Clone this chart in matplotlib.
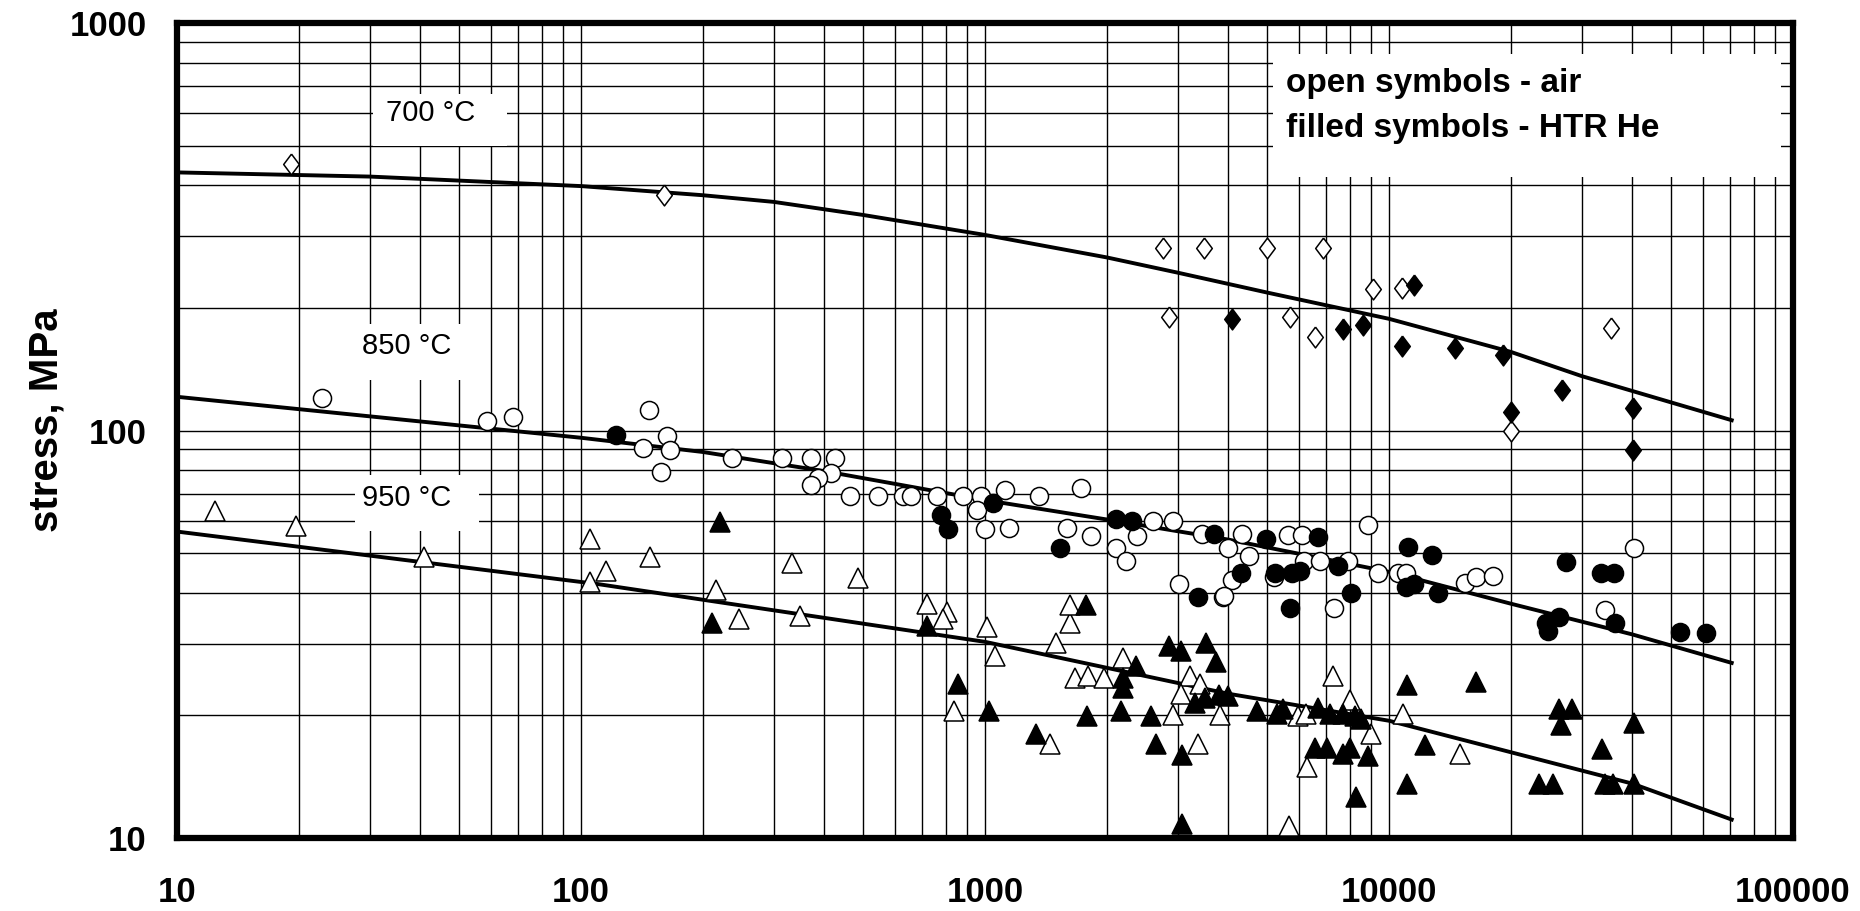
import matplotlib
matplotlib.use('Agg')
import matplotlib.pyplot as plt
from matplotlib.patches import Rectangle
from matplotlib.ticker import FixedLocator, LogLocator, NullFormatter

plt.rcParams['font.family'] = ['Liberation Sans', 'DejaVu Sans']

# ---- data (time h, stress MPa) ----
# 700 C, diamonds
d700_air_x = [19.1, 160, 2750, 3480, 4990, 6870, 2850, 5700, 6560, 9150, 10770, 20000, 35400]
d700_air_y = [450, 378, 280, 281, 280, 281, 190, 190, 170, 223, 224, 99.6, 179]
d700_he_x = [4080, 7690, 8630, 11560, 10770, 14590, 19100, 26800, 20000, 40100, 40100]
d700_he_y = [188, 177, 182, 228, 161, 159, 153, 126, 111, 113.6, 89.8]

# 850 C, circles
c850_air_x = [22.9, 58.5, 67.8, 147, 163, 142, 166, 158, 237, 314, 371, 425, 415, 387, 371,
              464, 543, 625, 655, 762, 883, 975, 1120, 1358, 1726, 956, 997, 1148, 1592, 1829,
              2600, 2920, 2376, 2115, 2233, 3436, 3020, 3883, 4093, 4330, 4000, 4490, 3910,
              5610, 6080, 6150, 6760, 7910, 5200, 7300, 8880, 9370, 10500, 11000, 15460,
              16400, 18100, 34200, 40400]
c850_air_y = [120, 105.5, 108, 112, 97, 90.5, 89.5, 78.9, 85.4, 85.4, 85.4, 85.4, 78.5, 76.3, 73.5,
              69.2, 69.2, 69.2, 69.2, 69.2, 69.2, 69.2, 71.5, 69.2, 72.2, 64, 57.2, 57.7, 57.7, 55.1,
              59.9, 59.9, 55.1, 51.4, 47.9, 55.6, 42.1, 39.1, 43, 55.8, 51.6, 49.3, 39.3,
              55.4, 55.4, 47.9, 47.9, 47.9, 43.6, 36.6, 58.5, 44.7, 44.7, 44.7, 42.2,
              43.6, 44, 36.2, 51.6]
c850_he_x = [122, 780, 811, 1045, 1536, 2104, 2310, 3690, 3358, 4290, 4955, 6680, 5230, 5740,
             6010, 7470, 8050, 5680, 11160, 12770, 11000, 11500, 13200, 27400, 33400, 36000,
             36200, 24400, 24700, 26400, 52600, 60900]
c850_he_y = [97.5, 62.2, 57.2, 66.4, 51.6, 60.5, 59.9, 55.6, 39, 44.7, 54.1, 54.7, 44.7, 44.7,
             45.1, 46.6, 39.9, 36.6, 51.7, 49.6, 41.3, 42, 39.9, 47.5, 44.7, 44.7,
             33.7, 33.8, 32.2, 34.8, 32.1, 31.9]

# 950 C, triangles
t950_air_x = [12.4, 19.65, 40.8, 105, 115, 105, 148, 333, 486, 216, 246, 348, 719, 804, 789,
              1009, 1057, 1500, 1622, 1622, 1667, 1795, 1971, 2196, 3210, 3400, 3050, 2920,
              3820, 838, 1449, 3370, 7250, 8010, 5940, 6220, 9040, 6250, 10850, 15000, 5650]
t950_air_y = [63.6, 58.2, 49, 54.1, 45.3, 42.5, 49, 47.2, 43.5, 40.7, 34.4, 35.1, 37.6, 35.9, 34.5,
              33, 27.9, 30.1, 33.7, 37.4, 24.7, 25, 24.7, 27.7, 25, 23.9, 22.6, 20,
              20, 20.5, 17, 17, 25, 21.8, 19.9, 20.2, 18, 14.9, 20.2, 16.1, 10.7]
t950_he_x = [221, 211, 719, 1780, 2367, 2200, 2200, 2850, 3060, 3520, 3730, 3300, 3500, 3800,
             4000, 857, 1020, 1786, 2168, 2570, 1336, 2649, 3070, 3070, 11100, 16400, 26400,
             28400, 26700, 40400, 33600, 23500, 25500, 34200, 35800, 40400, 11100, 12250,
             8280, 4710, 5280, 5470, 6680, 7160, 7680, 8240, 8530, 6560, 7030, 7680, 8010, 8880]
t950_he_y = [59.7, 33.7, 33.1, 37.4, 26.4, 24.7, 23.4, 29.6, 28.8, 30.1, 27.1, 21.5, 22, 22.5,
             22.3, 23.9, 20.5, 19.9, 20.5, 19.9, 18, 17, 16, 10.8, 23.8, 24.2, 20.7,
             20.7, 18.9, 19.2, 16.5, 13.6, 13.6, 13.6, 13.6, 13.6, 13.6, 16.9,
             12.6, 20.5, 20.2, 20.7, 20.9, 20.2, 20.2, 19.9, 19.6, 16.6, 16.6, 16.1, 16.6, 15.9]

# fitted curves as drawn
fit700_x = [10, 30, 100, 200, 300, 500, 1000, 2000, 3000, 5000, 10000, 20000, 30000, 70500]
fit700_y = [430, 420, 398, 378, 364, 338, 302, 266, 244, 218, 188, 156, 136, 106]
fit850_x = [10, 100, 200, 400, 1000, 2000, 4000, 10000, 20000, 40000, 70500]
fit850_y = [121, 96, 88.6, 79.5, 67.5, 60.5, 54, 45, 37.6, 31.6, 26.9]
fit950_x = [10, 110, 1000, 4000, 10000, 40000, 70500]
fit950_y = [56.5, 42, 30.3, 22.6, 19.4, 13.6, 11.1]

temp_labels = ['700 °C', '850 °C', '950 °C']
legend_lines = ['open symbols - air', 'filled symbols - HTR He']
x_ticks = [10, 100, 1000, 10000, 100000]
y_ticks = [10, 100, 1000]

# ---- figure ----
fig = plt.figure(figsize=(18.6, 9.11), dpi=100)
ax = fig.add_axes([0.0952, 0.0801, 0.8688, 0.8946])
ax.set_xscale('log')
ax.set_yscale('log')
ax.set_xlim(10, 100000)
ax.set_ylim(10, 1000)

ax.set_axisbelow(True)
ax.xaxis.set_minor_locator(LogLocator(base=10, subs=range(2, 10)))
ax.yaxis.set_minor_locator(LogLocator(base=10, subs=range(2, 10)))
ax.xaxis.set_minor_formatter(NullFormatter())
ax.yaxis.set_minor_formatter(NullFormatter())
ax.grid(which='both', color='black', lw=1.0)

ax.xaxis.set_major_locator(FixedLocator(x_ticks))
ax.yaxis.set_major_locator(FixedLocator(y_ticks))
ax.set_xticklabels([str(v) for v in x_ticks])
ax.set_yticklabels([str(v) for v in y_ticks])
ax.tick_params(which='both', length=0, labelsize=25)
ax.tick_params(axis='x', pad=27)
ax.tick_params(axis='y', pad=22)
for lab in ax.get_xticklabels() + ax.get_yticklabels():
    lab.set_fontweight('bold')
for sp in ax.spines.values():
    sp.set_linewidth(4.5)

# white boxes behind the labels (x0, x1, y0, y1 in data units)
label_boxes = [(30.5, 65.5, 500, 670), (28, 55, 133, 183), (27.5, 56, 56.6, 77.8)]
label_pos = [(42.4, 600), (37.1, 161), (37, 68.2)]
for (x0, x1, y0, y1), (tx, ty), txt in zip(label_boxes, label_pos, temp_labels):
    ax.add_patch(Rectangle((x0, y0), x1 - x0, y1 - y0, fc='white', ec='none', zorder=1))
    ax.text(tx, ty, txt, fontsize=21, ha='center', va='center', zorder=4)

ax.add_patch(Rectangle((5170, 420), 93300 - 5170, 841 - 420, fc='white', ec='none', zorder=1))
ax.text(5550, 710, legend_lines[0], fontsize=24, fontweight='bold', va='center', zorder=4)
ax.text(5550, 551, legend_lines[1], fontsize=24, fontweight='bold', va='center', zorder=4)

# curves
for fx, fy in [(fit700_x, fit700_y), (fit850_x, fit850_y), (fit950_x, fit950_y)]:
    ax.plot(fx, fy, color='black', lw=2.8, zorder=2, solid_joinstyle='round')

diamond = [(0, 1), (0.75, 0), (0, -1), (-0.75, 0), (0, 1)]
ms = dict(ls='none', zorder=3)
ax.plot(d700_air_x, d700_air_y, marker=diamond, ms=15, mfc='white', mec='black', mew=1.1, **ms)
ax.plot(d700_he_x, d700_he_y, marker=diamond, ms=15, mfc='black', mec='black', mew=1.1, **ms)
ax.plot(c850_air_x, c850_air_y, marker='o', ms=13, mfc='white', mec='black', mew=1.1, **ms)
ax.plot(c850_he_x, c850_he_y, marker='o', ms=13, mfc='black', mec='black', mew=1.1, **ms)
ax.plot(t950_air_x, t950_air_y, marker='^', ms=14, mfc='white', mec='black', mew=1.1, **ms)
ax.plot(t950_he_x, t950_he_y, marker='^', ms=14, mfc='black', mec='black', mew=1.1, **ms)

fig.text(47 / 1860, 1 - 420 / 911, 'stress, MPa', rotation=90, fontsize=29,
         fontweight='bold', ha='center', va='center')

fig.savefig('out.png', dpi=100)
